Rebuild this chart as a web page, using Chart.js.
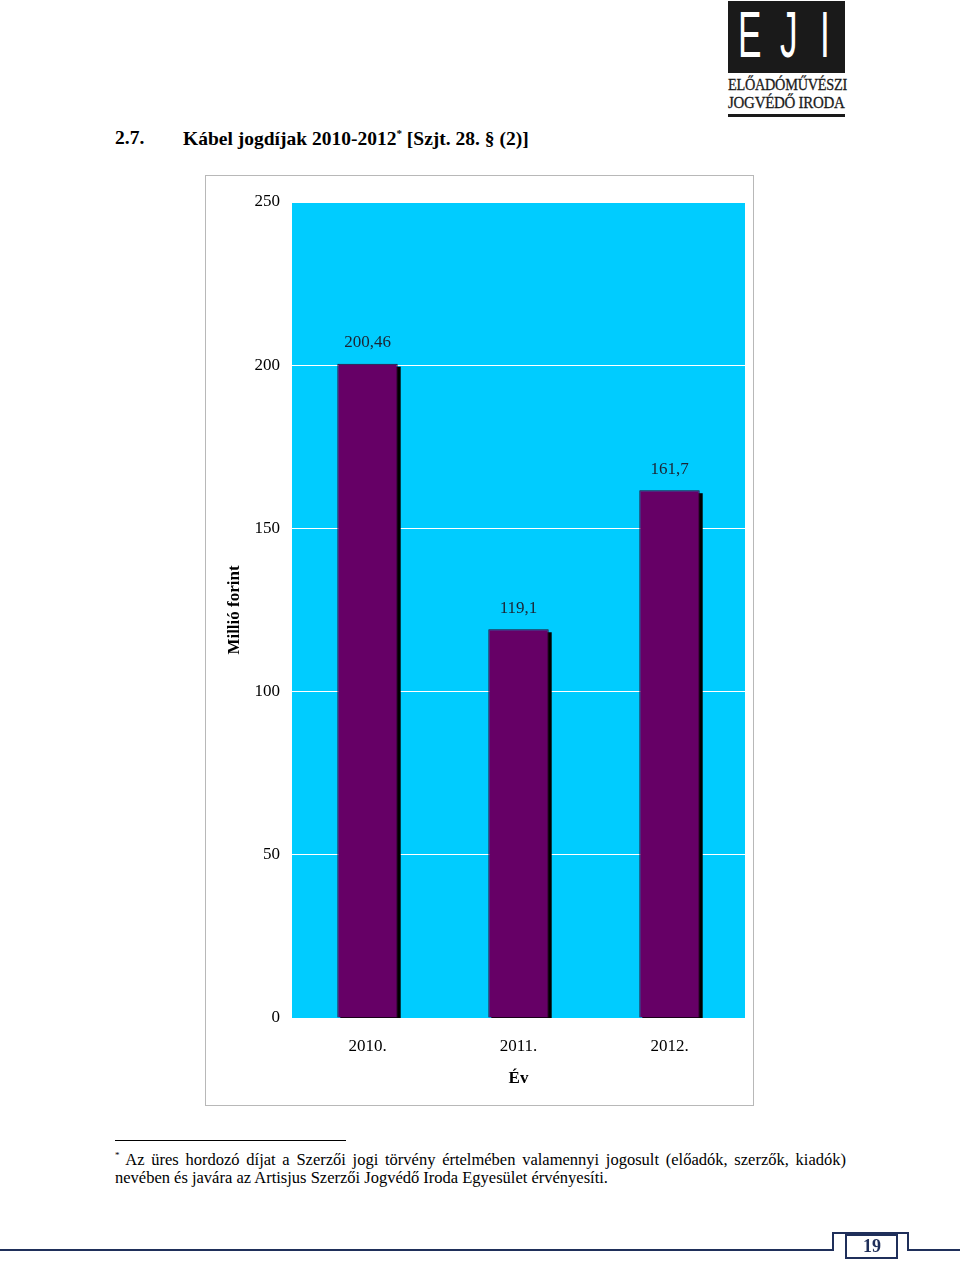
<!DOCTYPE html>
<html lang="hu">
  <head>
    <meta charset="UTF-8" />
    <title>Kábel jogdíjak 2010-2012</title>
    <script src="https://cdn.jsdelivr.net/npm/chart.js"></script>
    <style>
      body {
        margin: 0;
        background: #fff;
        font-family: "Liberation Serif", "Times New Roman", serif;
        color: #000;
      }
      .page {
        position: relative;
        width: 960px;
        height: 1264px;
        overflow: hidden;
      }
      .logo-box {
        position: absolute;
        left: 728px;
        top: 1px;
        width: 117px;
        height: 72px;
        background: #1a1a1a;
      }
      .logo-letter {
        position: absolute;
        top: 2px;
        color: #fff;
        font-family: "Liberation Sans", sans-serif;
        font-size: 64px;
        line-height: 64px;
        transform: scaleX(0.55);
        transform-origin: left top;
      }
      .logo-text {
        position: absolute;
        left: 728px;
        font-size: 17px;
        line-height: 17px;
        color: #1a1a1a;
        white-space: nowrap;
        letter-spacing: -0.3px;
        transform: scaleX(0.84);
        transform-origin: left top;
        -webkit-text-stroke: 0.3px #1a1a1a;
      }
      .logo-line {
        position: absolute;
        left: 728px;
        top: 114px;
        width: 117px;
        height: 3px;
        background: #1a1a1a;
      }
      .heading {
        position: absolute;
        top: 127px;
        font-weight: bold;
        font-size: 19.5px;
        white-space: nowrap;
      }
      .chart-frame {
        position: absolute;
        left: 205px;
        top: 175px;
        width: 547px;
        height: 929px;
        border: 1px solid #b8b8b8;
      }
      .chart-frame canvas {
        display: block;
      }
      .fn-rule {
        position: absolute;
        left: 115px;
        top: 1140px;
        width: 231px;
        height: 1px;
        background: #000;
      }
      .footnote {
        position: absolute;
        left: 115px;
        width: 731px;
        font-size: 16.5px;
        line-height: 18px;
        white-space: nowrap;
      }
      .footnote.first {
        top: 1151px;
        text-align: justify;
        text-align-last: justify;
      }
      .footnote sup {
        font-size: 9px;
        vertical-align: 7px;
        line-height: 0;
      }
      .pagenum {
        position: absolute;
        left: 846px;
        top: 1236px;
        width: 52px;
        text-align: center;
        font-weight: bold;
        font-size: 18px;
        line-height: 20px;
        color: #1f2f5a;
      }
    </style>
  </head>
  <body>
    <div class="page">
      <div class="logo-box">
        <span class="logo-letter" style="left: 10px">E</span>
        <span class="logo-letter" style="left: 52px">J</span>
        <span class="logo-letter" style="left: 92px">I</span>
      </div>
      <div class="logo-text" style="top: 76px">ELŐADÓMŰVÉSZI</div>
      <div class="logo-text" style="top: 94px; transform: scaleX(0.88)">JOGVÉDŐ IRODA</div>
      <div class="logo-line"></div>

      <div class="heading" style="left: 115px">2.7.</div>
      <div class="heading" style="left: 183px">
        Kábel jogdíjak 2010-2012<sup style="font-size: 11px">*</sup> [Szjt. 28. § (2)]
      </div>

      <div class="chart-frame">
        <canvas id="kabelChart" width="547" height="929"></canvas>
      </div>

      <div class="fn-rule"></div>
      <div class="footnote first">
        <sup>*</sup> Az üres hordozó díjat a Szerzői jogi törvény értelmében valamennyi jogosult (előadók, szerzők, kiadók)
      </div>
      <div class="footnote" style="top: 1169px">
        nevében és javára az Artisjus Szerzői Jogvédő Iroda Egyesület érvényesíti.
      </div>

      <svg width="960" height="1264" style="position: absolute; left: 0; top: 0; pointer-events: none">
        <path d="M0 1250 H833 V1233 H908 V1250 H960" fill="none" stroke="#1f2f5a" stroke-width="2" />
        <rect x="846" y="1235" width="51" height="23" fill="none" stroke="#1f2f5a" stroke-width="2" />
      </svg>
      <div class="pagenum">19</div>
    </div>

    <script>
      const categories = ["2010.", "2011.", "2012."];
      const values = [200.46, 119.1, 161.7];
      const valueLabels = ["200,46", "119,1", "161,7"];
      const yMin = 0;
      const yMax = 250;
      const yStep = 50;

      const serif = "'Liberation Serif', 'Times New Roman', serif";

      // cyan plot background
      const plotBackground = {
        id: "plotBackground",
        beforeDraw(chart) {
          const { ctx, chartArea } = chart;
          ctx.save();
          ctx.fillStyle = "#00ccff";
          ctx.fillRect(chartArea.left, chartArea.top, chartArea.width, chartArea.height);
          ctx.restore();
        },
      };

      // black drop shadow behind each bar
      const barShadow = {
        id: "barShadow",
        beforeDatasetsDraw(chart) {
          const { ctx, chartArea } = chart;
          ctx.save();
          ctx.beginPath();
          ctx.rect(chartArea.left, chartArea.top, chartArea.width, chartArea.height);
          ctx.clip();
          ctx.fillStyle = "#000";
          chart.getDatasetMeta(0).data.forEach((bar) => {
            ctx.fillRect(bar.x - bar.width / 2 + 3, bar.y + 3, bar.width, bar.base - bar.y);
          });
          ctx.restore();
        },
      };

      // value labels above the bars
      const valueText = {
        id: "valueText",
        afterDatasetsDraw(chart) {
          const { ctx } = chart;
          ctx.save();
          ctx.font = "17px " + serif;
          ctx.fillStyle = "#1c2433";
          ctx.textAlign = "center";
          ctx.textBaseline = "middle";
          chart.getDatasetMeta(0).data.forEach((bar, i) => {
            ctx.fillText(valueLabels[i], bar.x, bar.y - 21);
          });
          ctx.restore();
        },
      };

      new Chart(document.getElementById("kabelChart"), {
        type: "bar",
        data: {
          labels: categories,
          datasets: [
            {
              data: values,
              backgroundColor: "#660066",
              borderColor: "#2a0a2a",
              borderWidth: 1,
              barPercentage: 0.4,
              categoryPercentage: 1.0,
            },
          ],
        },
        options: {
          responsive: false,
          animation: false,
          layout: {
            padding: { top: 26, right: 8, left: 0, bottom: 0 },
          },
          plugins: {
            legend: { display: false },
            tooltip: { enabled: false },
          },
          scales: {
            x: {
              grid: { display: false, drawTicks: false },
              border: { display: false },
              ticks: {
                color: "#000",
                font: { family: serif, size: 17 },
                padding: 18,
              },
              title: {
                display: true,
                text: "Év",
                color: "#000",
                font: { family: serif, size: 17, weight: "bold" },
                padding: { top: 0, bottom: 16 },
              },
              afterFit(scale) {
                scale.height = 87;
              },
            },
            y: {
              min: yMin,
              max: yMax,
              grid: { color: "#ffffff", lineWidth: 1, drawTicks: false },
              border: { display: false },
              ticks: {
                stepSize: yStep,
                color: "#000",
                font: { family: serif, size: 17 },
                padding: 12,
              },
              title: {
                display: true,
                text: "Millió forint",
                color: "#000",
                font: { family: serif, size: 17, weight: "bold" },
                padding: { top: 18, bottom: 0 },
              },
              afterFit(scale) {
                scale.width = 86;
              },
            },
          },
        },
        plugins: [plotBackground, barShadow, valueText],
      });
    </script>
  </body>
</html>
